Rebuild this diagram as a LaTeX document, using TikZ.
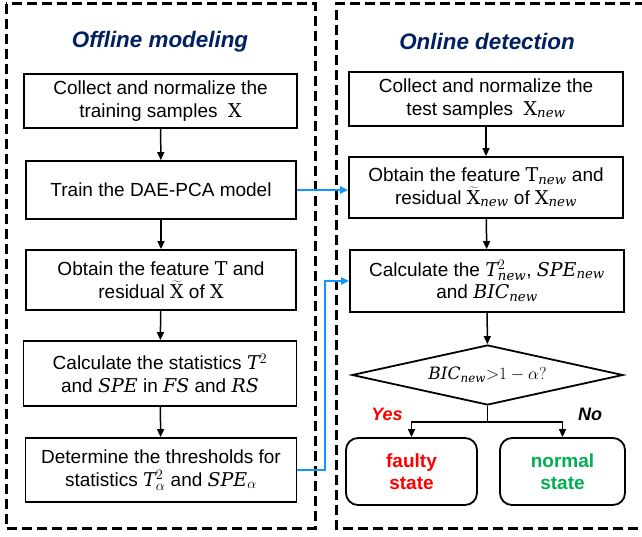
\documentclass[tikz,border=0pt]{standalone}
\usepackage{fontspec}
\setmainfont{Liberation Sans}
\setmathrm{DejaVu Serif}
\usetikzlibrary{shapes.geometric,arrows.meta}

\definecolor{navy}{RGB}{0,32,96}
\definecolor{linkblue}{RGB}{20,150,250}
\definecolor{okgreen}{RGB}{0,176,80}

% serif math symbols used in the step texts
\newcommand{\mv}[1]{\mathit{#1}}
\newcommand{\nw}{\mathit{new}}

\tikzset{
  frame/.style={line width=3pt, dash pattern=on 10pt off 5pt},
  title/.style={font=\fontsize{22.4}{26}\selectfont\bfseries\itshape, text=navy},
  stepbox/.style={draw, line width=1.8pt, align=center, inner sep=0pt,
    font=\fontsize{19}{22.5}\selectfont},
  endbox/.style={stepbox, rounded corners=12pt, font=\fontsize{19}{22.5}\selectfont\bfseries},
  arr/.style={line width=1.5pt, -{Triangle[length=8pt,width=7pt]}},
  link/.style={draw=linkblue, line width=2pt, -{Triangle[length=8pt,width=7pt]}},
  branch/.style={font=\fontsize{18}{22}\selectfont\bfseries\itshape},
}

\begin{document}
\begin{tikzpicture}[x=1pt, y=-1pt]
  \useasboundingbox (0,0) rectangle (642,537);

  % two phase frames
  \draw[frame] (6,4) rectangle (315,528);
  \draw[frame] (660,4) -- (336,4) -- (336,528) -- (660,528);

  \node[title] (offT) at (160,42) {Offline modeling};
  \node[title] (onT) at (487,42) {Online detection};

  % offline modeling steps
  \node[stepbox, minimum width=273pt, minimum height=54pt] (b1) at (160.5,101)
    {Collect and normalize the\\training samples~ $\mathrm{X}$};
  \node[stepbox, minimum width=270pt, minimum height=58pt] (b2) at (161,190)
    {Train the DAE-PCA model};
  \node[stepbox, minimum width=270pt, minimum height=60pt] (b3) at (161,280)
    {Obtain the feature $\mathrm{T}$ and\\residual $\widetilde{\mathrm{X}}$ of $\mathrm{X}$};
  \node[stepbox, minimum width=273pt, minimum height=65pt] (b4) at (160,373.5)
    {Calculate the statistics $\mv{T}^2$\\and $\mv{SPE}$ in $\mv{FS}$ and $\mv{RS}$};
  \node[stepbox, minimum width=271pt, minimum height=64pt] (b5) at (161,470)
    {Determine the thresholds for\\statistics $\mv{T}_\alpha^2$ and $\mv{SPE}_\alpha$};

  % online detection steps
  \node[stepbox, minimum width=274pt, minimum height=54pt] (r1) at (486,99)
    {Collect and normalize the\\test samples~ $\mathrm{X}_{\nw}$};
  \node[stepbox, minimum width=274pt, minimum height=61pt] (r2) at (486,187.5)
    {Obtain the feature $\mathrm{T}_{\nw}$ and\\residual $\widetilde{\mathrm{X}}_{\nw}$ of $\mathrm{X}_{\nw}$};
  \node[stepbox, minimum width=274pt, minimum height=62pt] (r3) at (487,281)
    {Calculate the $\mv{T}_{\nw}^2$, $\mv{SPE}_{\nw}$\\and $\mv{BIC}_{\nw}$};
  \node[draw, diamond, line width=1.8pt, inner sep=0pt, aspect=4.5,
        minimum width=271pt, minimum height=60pt,
        font=\fontsize{17}{21}\selectfont] (dec) at (487.5,375)
    {$\mv{BIC}_{\nw}{>}1-\alpha?$};
  \node[endbox, minimum width=131pt, minimum height=67pt, text=red] (faulty)
    at (411.5,471.5) {faulty\\state};
  \node[endbox, minimum width=125pt, minimum height=67pt, text=okgreen] (normal)
    at (562.5,471.5) {normal\\state};

  \node[branch, text=red] (yes) at (387,414) {Yes};
  \node[branch] (no) at (590,414) {No};

  % flow arrows
  \draw[arr] (b1) -- (b2);
  \draw[arr] (b2) -- (b3);
  \draw[arr] (b3) -- (b4);
  \draw[arr] (b4) -- (b5);
  \draw[arr] (r1) -- (r2);
  \draw[arr] (r2) -- (r3);
  \draw[arr] (r3) -- (dec);
  \coordinate (split) at (dec.south |- 0,422);
  \draw[line width=1.5pt] (dec.south) -- (split);
  \draw[arr] (split) -| (faulty.north);
  \draw[arr] (split) -| (normal.north);

  % model handed over to the online phase
  \draw[link] (b2.east) -- (b2.east -| r2.west);
  \coordinate (bend) at (324.5,0);
  \draw[link] (b5.east) -- (b5.east -| bend) |- (r3.west);
\end{tikzpicture}
\end{document}
